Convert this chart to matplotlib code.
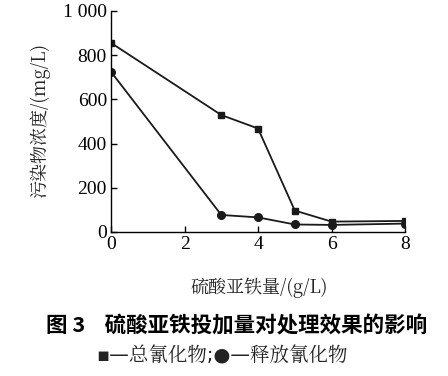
import matplotlib
matplotlib.use("Agg")
import matplotlib.pyplot as plt

# data
dose = [0, 3, 4, 5, 6, 8]
total_cn = [855, 529, 468, 97, 47, 50]
release_cn = [724, 77, 66, 34, 32, 38]
xticks = [0, 2, 4, 6, 8]
yticks = [0, 200, 400, 600, 800, 1000]
ytick_labels = ["0", "200", "400", "600", "800", "1 000"]

num_font = "Liberation Serif"
cjk = ["Noto Serif CJK SC", "Noto Sans CJK SC", "Liberation Serif"]

fig = plt.figure(figsize=(4.48, 3.76), dpi=100)
ax = fig.add_axes([0.248, 0.383, 0.656, 0.588])

ax.plot(dose, total_cn, color="#1a1a1a", lw=1.3, marker="s", ms=5)
ax.plot(dose, release_cn, color="#1a1a1a", lw=1.3, marker="o", ms=5.5)

ax.set_xlim(0, 8)
ax.set_ylim(0, 1000)
ax.set_xticks(xticks)
ax.set_yticks(yticks)
ax.set_yticklabels(ytick_labels)
ax.tick_params(direction="in", length=4, width=1, labelsize=14, pad=3)
for lab in ax.get_xticklabels() + ax.get_yticklabels():
    lab.set_fontfamily(num_font)
for s in ["top", "right"]:
    ax.spines[s].set_visible(False)
for s in ["left", "bottom"]:
    ax.spines[s].set_linewidth(1.0)

fig.text(0.09, 0.68, "污染物浓度/(mg/L)", rotation=90, ha="center", va="center",
         fontsize=13, family=cjk, color="#222222")
fig.text(0.578, 0.235, "硫酸亚铁量/(g/L)", ha="center", va="center",
         fontsize=13, family=cjk, color="#222222")
fig.text(0.528, 0.133, "图 3    硫酸亚铁投加量对处理效果的影响", ha="center", va="center",
         fontsize=15.5, fontweight="bold", family=["Noto Sans CJK SC", "DejaVu Sans"])
fig.text(0.495, 0.053, "▪—总氰化物;●—释放氰化物", ha="center", va="center",
         fontsize=14, family=["DejaVu Sans", "Noto Serif CJK SC", "Noto Sans CJK SC"],
         color="#222222")

fig.savefig("out.png", dpi=100)
